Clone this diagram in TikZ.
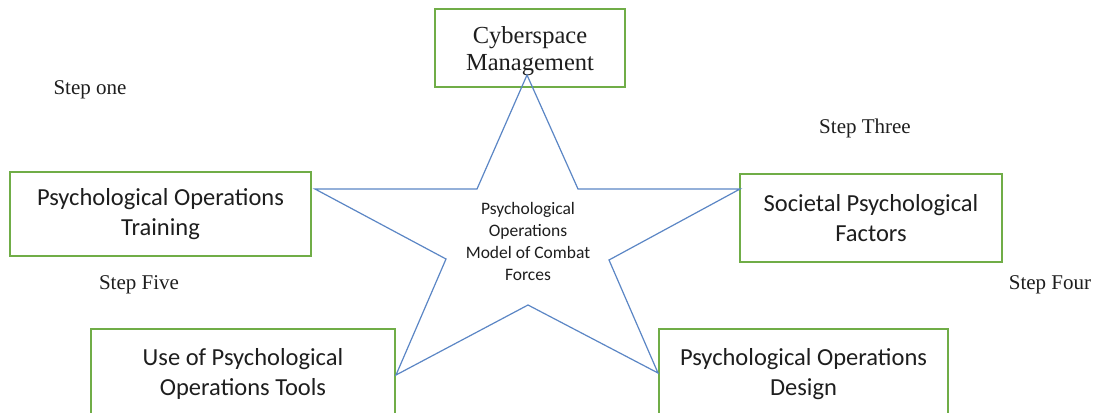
\documentclass[tikz,border=0pt]{standalone}
\usepackage{fontspec}
\setmainfont{Liberation Serif}
\newfontfamily\boxfont{Carlito}
\definecolor{boxgreen}{HTML}{70AD47}
\definecolor{starblue}{HTML}{5B86C5}
\definecolor{inktext}{HTML}{1E1E1E}
\begin{document}
\begin{tikzpicture}[x=1pt,y=-1pt,
  stepbox/.style={draw=boxgreen, line width=2pt, fill=white, inner sep=0pt,
    align=center, text=inktext},
  sanslabel/.style={font=\boxfont\fontsize{24.5}{30}\selectfont},
  seriflabel/.style={font=\fontsize{24.5}{27}\selectfont, align=center, text=inktext, inner sep=0pt},
  steplabel/.style={font=\fontsize{21}{24}\selectfont, text=inktext, inner sep=0pt},
  starline/.style={draw=starblue, line width=1.2pt, line join=miter}]
\clip (0,0) rectangle (1099,412);
\fill[white] (0,0) rectangle (1099,412);

% outline boxes
\node[stepbox, minimum width=190pt, minimum height=78pt] (cyber) at (530,48) {};
\node[seriflabel] (cybertext) at ([yshift=-3pt]cyber.center) {Cyberspace\\Management};
\node[stepbox, sanslabel, minimum width=301pt, minimum height=84pt] (training) at (160.5,214)
  {Psychological Operations\\Training};
\node[stepbox, sanslabel, minimum width=262pt, minimum height=88pt] (societal) at (871,218)
  {Societal Psychological\\Factors};
\node[stepbox, sanslabel, minimum width=304pt, minimum height=90pt] (tools) at (243,374)
  {Use of Psychological\\Operations Tools};
\node[stepbox, sanslabel, minimum width=289pt, minimum height=90pt] (design) at (803.5,374)
  {Psychological Operations\\Design};

% star vertices
\coordinate (ptop) at (527,75);
\coordinate (sR) at (578,189);
\coordinate (pright) at (740,189);
\coordinate (iR) at (609,260);
\coordinate (pbr) at (658,373);
\coordinate (iB) at (528,305);
\coordinate (pbl) at (396,375);
\coordinate (iL) at (446,259);
\coordinate (pleft) at (315,189);
\coordinate (sL) at (477,189);
\draw[starline] (ptop) -- (sR) -- (pright) -- (iR) -- (pbr) -- (iB) -- (pbl)
  -- (iL) -- (pleft) -- (sL) -- cycle;

\node[align=center, text=inktext, font=\boxfont\fontsize{17.5}{22}\selectfont] (model) at (528,241)
  {Psychological\\Operations\\Model of Combat\\Forces};

% step labels
\node[steplabel] (s1) at (90,90) {Step one};
\node[steplabel] (s3) at (865,128) {Step Three};
\node[steplabel] (s5) at (139,285) {Step Five};
\node[steplabel] (s4) at (1050,285) {Step Four};
\end{tikzpicture}
\end{document}
